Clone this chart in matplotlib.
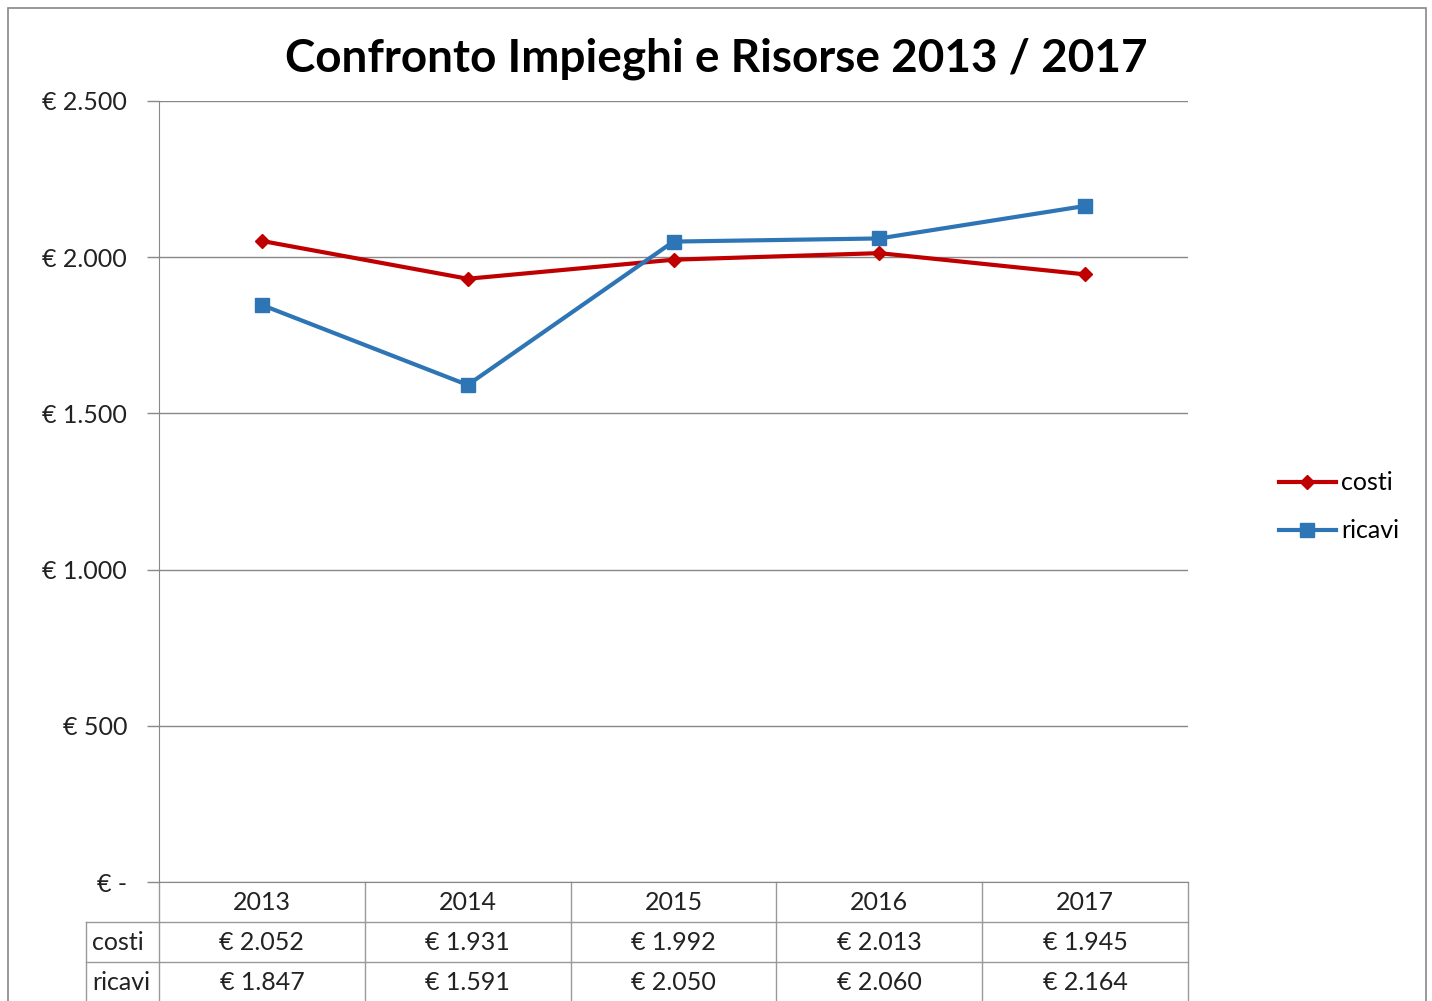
import numpy as np
import matplotlib
matplotlib.use('Agg')
import matplotlib.pyplot as plt
from matplotlib.patches import Rectangle

plt.rcParams['font.family'] = ['Lato', 'DejaVu Sans']

# dati
anni = ['2013', '2014', '2015', '2016', '2017']
costi = [2052, 1931, 1992, 2013, 1945]
ricavi = [1847, 1591, 2050, 2060, 2164]
yticks = [0, 500, 1000, 1500, 2000, 2500]
ytick_labels = ['€ -', '€ 500', '€ 1.000', '€ 1.500', '€ 2.000', '€ 2.500']

W, H = 1432, 1001
fig = plt.figure(figsize=(W / 100, H / 100), dpi=100)

# area del grafico (in pixel)
x0, x1, y0, y1 = 159, 1188, 101, 882
ax = fig.add_axes([x0 / W, 1 - y1 / H, (x1 - x0) / W, (y1 - y0) / H])

def fmt(v):
    return '€ ' + '{:,}'.format(v).replace(',', '.')

x = np.arange(len(anni))
ax.plot(x, costi, color='#C00000', lw=3, marker='D', ms=7, label='costi', zorder=3)
ax.plot(x, ricavi, color='#2E75B6', lw=3, marker='s', ms=10, label='ricavi', zorder=3)

ax.set_xlim(-0.5, len(anni) - 0.5)
ax.set_ylim(0, 2500)
ax.set_yticks(yticks)
ax.set_yticklabels(ytick_labels, fontsize=18, color='#222222')
ax.set_xticks([])
ax.tick_params(axis='y', length=9, color='#888888', width=1, pad=14)
ax.grid(axis='y', color='#888888', lw=1)
for s in ['top', 'right']:
    ax.spines[s].set_visible(False)
ax.spines['left'].set_color('#888888')
ax.spines['bottom'].set_color('#888888')

# tabella dati sotto il grafico
gc = '#999999'
fs = 18
rh = 40 / (y1 - y0)       # altezza riga in coordinate assi
lab_x = (86 - x0) / (x1 - x0)
n = len(anni)
kw = dict(transform=ax.transAxes, color=gc, lw=1, clip_on=False)
for k in range(n + 1):
    xa = k / n
    ax.plot([xa, xa], [0, -3.2 * rh], **kw)
ax.plot([lab_x, 1], [-rh, -rh], **kw)
ax.plot([lab_x, 1], [-2 * rh, -2 * rh], **kw)
ax.plot([lab_x, lab_x], [-rh, -3.2 * rh], **kw)

for i, a in enumerate(anni):
    xc = (i + 0.5) / n
    ax.text(xc, -0.5 * rh, a, transform=ax.transAxes, ha='center', va='center', fontsize=fs, color='#222222')
    ax.text(xc, -1.5 * rh, fmt(costi[i]), transform=ax.transAxes, ha='center', va='center', fontsize=fs, color='#222222')
    ax.text(xc, -2.5 * rh, fmt(ricavi[i]), transform=ax.transAxes, ha='center', va='center', fontsize=fs, color='#222222')
ax.text(lab_x + 0.006, -1.5 * rh, 'costi', transform=ax.transAxes, ha='left', va='center', fontsize=fs, color='#222222')
ax.text(lab_x + 0.006, -2.5 * rh, 'ricavi', transform=ax.transAxes, ha='left', va='center', fontsize=fs, color='#222222')

# titolo
fig.text(716 / W, 1 - 59 / H, 'Confronto Impieghi e Risorse 2013 / 2017', ha='center', va='center',
         fontsize=33, fontweight='bold', color='black')

# legenda
fig.legend(loc='center left', bbox_to_anchor=(1256 / W, 1 - 507 / H), frameon=False, fontsize=18,
           handlelength=2.3, handletextpad=0.2, labelspacing=1.0)

# bordo esterno
fig.patches.append(Rectangle((8 / W, -0.01), (1426 - 8) / W, 1 - 8 / H + 0.01, transform=fig.transFigure,
                             fill=False, edgecolor='#888888', lw=1.2))

fig.savefig('out.png', dpi=100, facecolor='white')
